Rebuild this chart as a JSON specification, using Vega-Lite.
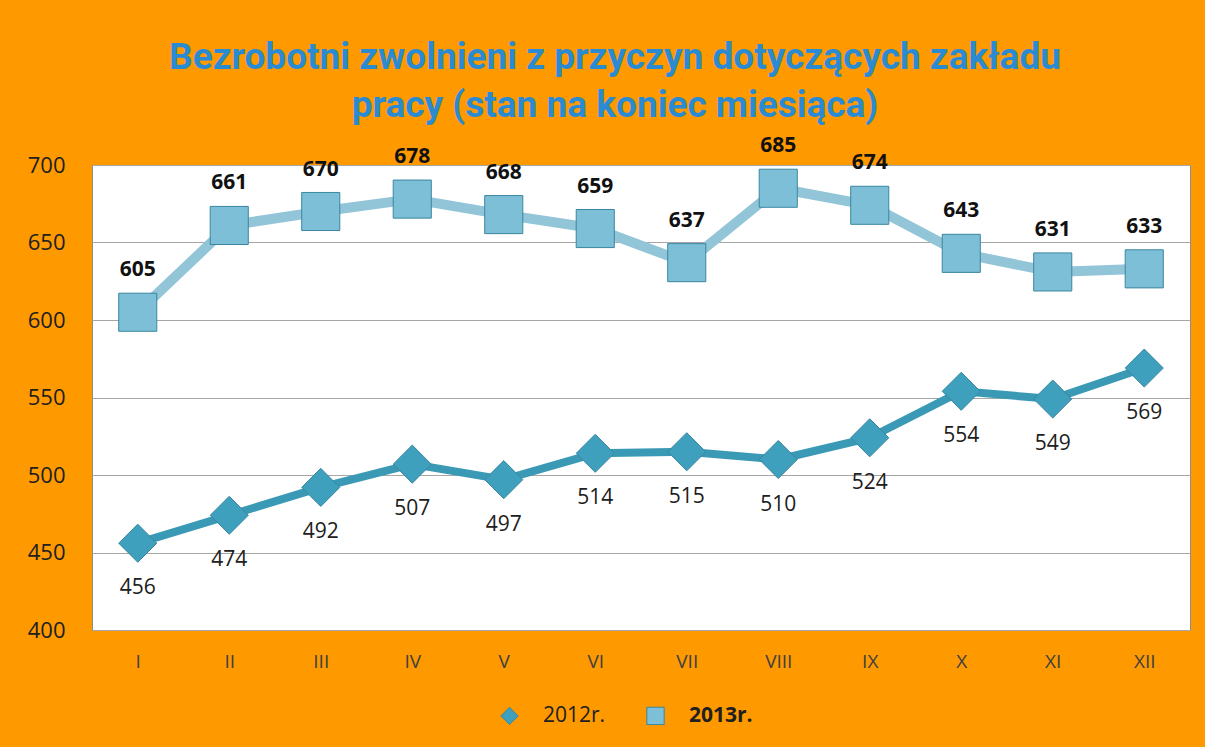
{
  "$schema": "https://vega.github.io/schema/vega-lite/v6.json",
  "width": 1098,
  "height": 465,
  "autosize": {"type": "none"},
  "padding": {"left": 92, "top": 165, "right": 15, "bottom": 117},
  "background": "#FF9900",
  "config": {
    "view": {"fill": "white", "stroke": "#8C8C8C", "strokeWidth": 1},
    "font": "Open Sans"
  },
  "title": {
    "text": ["Bezrobotni zwolnieni z przyczyn dotyczących zakładu", "pracy (stan na koniec miesiąca)"],
    "font": "Roboto",
    "fontSize": 37,
    "fontWeight": "bold",
    "color": "#2A8BD3",
    "lineHeight": 48,
    "anchor": "middle",
    "frame": "group",
    "dx": -26,
    "offset": 10
  },
  "data": {
    "values": [
      {"m": "I", "rok": "2012r.", "v": 456},
      {"m": "II", "rok": "2012r.", "v": 474},
      {"m": "III", "rok": "2012r.", "v": 492},
      {"m": "IV", "rok": "2012r.", "v": 507},
      {"m": "V", "rok": "2012r.", "v": 497},
      {"m": "VI", "rok": "2012r.", "v": 514},
      {"m": "VII", "rok": "2012r.", "v": 515},
      {"m": "VIII", "rok": "2012r.", "v": 510},
      {"m": "IX", "rok": "2012r.", "v": 524},
      {"m": "X", "rok": "2012r.", "v": 554},
      {"m": "XI", "rok": "2012r.", "v": 549},
      {"m": "XII", "rok": "2012r.", "v": 569},
      {"m": "I", "rok": "2013r.", "v": 605},
      {"m": "II", "rok": "2013r.", "v": 661},
      {"m": "III", "rok": "2013r.", "v": 670},
      {"m": "IV", "rok": "2013r.", "v": 678},
      {"m": "V", "rok": "2013r.", "v": 668},
      {"m": "VI", "rok": "2013r.", "v": 659},
      {"m": "VII", "rok": "2013r.", "v": 637},
      {"m": "VIII", "rok": "2013r.", "v": 685},
      {"m": "IX", "rok": "2013r.", "v": 674},
      {"m": "X", "rok": "2013r.", "v": 643},
      {"m": "XI", "rok": "2013r.", "v": 631},
      {"m": "XII", "rok": "2013r.", "v": 633}
    ]
  },
  "encoding": {
    "x": {
      "field": "m",
      "type": "ordinal",
      "sort": ["I", "II", "III", "IV", "V", "VI", "VII", "VIII", "IX", "X", "XI", "XII"],
      "scale": {"type": "point", "padding": 0.5},
      "axis": {
        "title": null,
        "labelAngle": 0,
        "labelFontSize": 19,
        "labelColor": "#404040",
        "labelPadding": 22,
        "ticks": false,
        "domain": false,
        "grid": false
      }
    },
    "y": {
      "field": "v",
      "type": "quantitative",
      "scale": {"domain": [400, 700], "nice": false, "zero": false},
      "axis": {
        "title": null,
        "values": [400, 450, 500, 550, 600, 650, 700],
        "labelFontSize": 22,
        "labelColor": "#202020",
        "labelPadding": 27,
        "ticks": false,
        "domain": false,
        "gridColor": "#A6A6A6",
        "gridWidth": 1
      }
    }
  },
  "layer": [
    {
      "transform": [{"filter": "datum.rok == '2012r.'"}],
      "mark": {"type": "line", "strokeCap": "round", "strokeJoin": "round", "strokeWidth": 8, "color": "#3A9AB5"},
      "encoding": {}
    },
    {
      "transform": [{"filter": "datum.rok == '2013r.'"}],
      "mark": {"type": "line", "strokeCap": "round", "strokeJoin": "round", "strokeWidth": 10, "color": "#92C5D8"},
      "encoding": {}
    },
    {
      "mark": {"type": "point", "filled": true, "opacity": 1, "size": 1450, "stroke": "#3A86A0", "strokeWidth": 1},
      "encoding": {
        "fill": {
          "field": "rok",
          "type": "nominal",
          "scale": {"domain": ["2012r.", "2013r."], "range": ["#3FA0BD", "#7DBFD7"]},
          "legend": {
            "title": null,
            "orient": "none",
            "legendX": 407,
            "legendY": 540,
            "direction": "horizontal",
            "symbolSize": 300,
            "symbolStrokeWidth": 1,
            "labelOffset": 23,
            "columnPadding": 38,
            "labelFontSize": 21,
            "labelColor": "#202020",
            "labelFontWeight": {"expr": "datum.label == '2013r.' ? 'bold' : 'normal'"}
          }
        },
        "shape": {
          "field": "rok",
          "type": "nominal",
          "scale": {"domain": ["2012r.", "2013r."], "range": ["diamond", "square"]},
          "legend": {
            "title": null,
            "orient": "none",
            "legendX": 407,
            "legendY": 540,
            "direction": "horizontal",
            "symbolSize": 300,
            "symbolStrokeWidth": 1,
            "labelOffset": 23,
            "columnPadding": 38,
            "labelFontSize": 21,
            "labelColor": "#202020",
            "labelFontWeight": {"expr": "datum.label == '2013r.' ? 'bold' : 'normal'"}
          }
        }
      }
    },
    {
      "transform": [{"filter": "datum.rok == '2013r.'"}],
      "mark": {"type": "text", "dy": -42, "fontSize": 21, "fontWeight": "bold", "color": "#111111"},
      "encoding": {"text": {"field": "v", "type": "quantitative"}}
    },
    {
      "transform": [{"filter": "datum.rok == '2012r.'"}],
      "mark": {"type": "text", "dy": 45, "fontSize": 21, "color": "#202020"},
      "encoding": {"text": {"field": "v", "type": "quantitative"}}
    }
  ]
}
